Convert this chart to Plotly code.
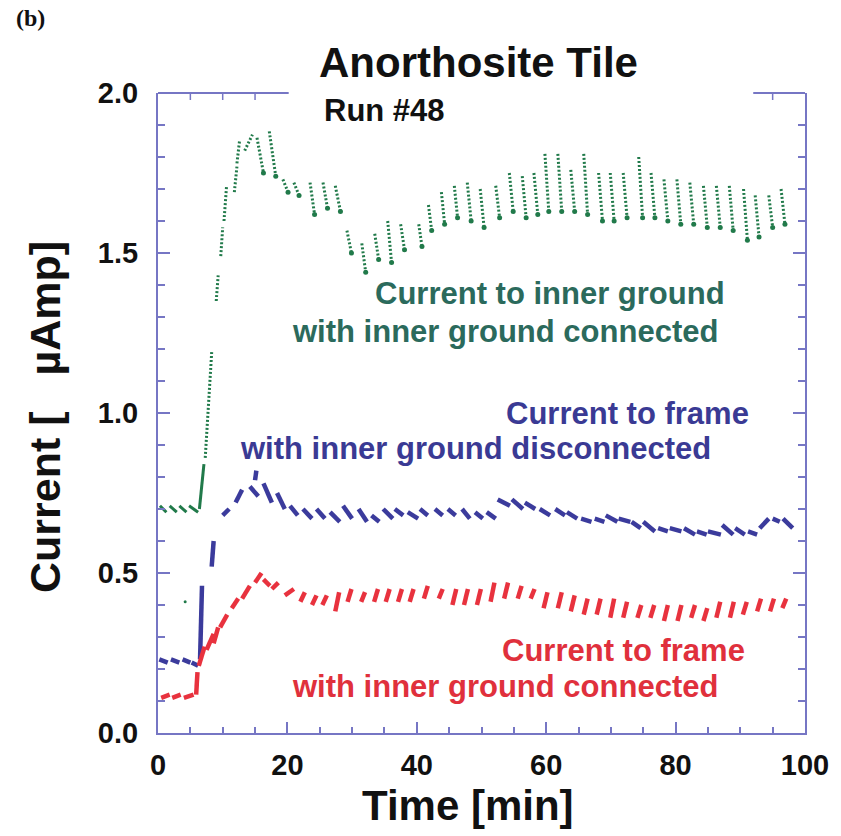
import plotly.graph_objects as go

# ---------------- data ----------------
# each streak: start time, end time, start current, end current
green_t0 = [0.3, 1.8, 3.3, 4.8, 6.4, 7.3, 9.0, 9.7, 10.2, 11.8, 12.2, 13.4, 15.3, 17.2, 19.3, 21.0, 23.5,
            25.5, 27.4, 29.2, 31.5, 33.5, 35.5, 37.5, 40.3, 41.8, 43.8, 45.8, 47.8, 49.8, 52.2, 54.3,
            56.3, 58.1, 59.8, 61.8, 63.8, 65.8, 68.1, 69.9, 71.9, 74.3, 76.2, 78.2, 80.2, 82.2, 84.3,
            86.3, 88.3, 90.5, 92.3, 94.4, 96.3]
green_t1 = [1.3, 2.9, 4.4, 6.2, 7.1, 8.3, 9.3, 10.0, 10.6, 12.2, 12.6, 14.6, 16.3, 18.2, 20.1, 21.8, 24.2,
            26.2, 28.2, 29.9, 32.1, 34.1, 36.1, 38.1, 40.8, 42.3, 44.3, 46.3, 48.4, 50.4, 52.8, 54.9,
            56.9, 58.7, 60.4, 62.4, 64.4, 66.4, 68.7, 70.5, 72.5, 74.9, 76.8, 78.8, 80.8, 82.8, 84.9,
            86.9, 88.9, 91.1, 92.9, 95.0, 96.9]
green_i0 = [0.71, 0.71, 0.71, 0.71, 0.70, 0.86, 1.35, 1.49, 1.60, 1.69, 1.78, 1.82, 1.86, 1.88, 1.73, 1.72, 1.72,
            1.72, 1.71, 1.57, 1.53, 1.56, 1.60, 1.59, 1.59, 1.65, 1.69, 1.71, 1.72, 1.70, 1.71, 1.75,
            1.74, 1.75, 1.81, 1.81, 1.76, 1.81, 1.75, 1.75, 1.75, 1.80, 1.75, 1.73, 1.73, 1.72, 1.71,
            1.71, 1.71, 1.70, 1.68, 1.68, 1.70]
green_i1 = [0.69, 0.69, 0.69, 0.69, 0.84, 1.19, 1.43, 1.58, 1.71, 1.77, 1.85, 1.87, 1.75, 1.74, 1.69, 1.68, 1.62,
            1.64, 1.63, 1.50, 1.44, 1.48, 1.47, 1.51, 1.52, 1.57, 1.59, 1.61, 1.60, 1.58, 1.61, 1.63,
            1.61, 1.62, 1.63, 1.63, 1.63, 1.62, 1.60, 1.60, 1.61, 1.61, 1.61, 1.60, 1.59, 1.59, 1.58,
            1.58, 1.57, 1.54, 1.55, 1.58, 1.59]
green_dot_t = [4.2]
green_dot_i = [0.41]

blue_t0 = [0.2, 2.0, 3.8, 5.2, 6.5, 8.3, 10.0, 12.0, 14.2, 15.0, 16.3, 18.4, 20.4, 22.4, 24.5, 26.6, 28.6,
           31.0, 33.0, 34.8, 36.6, 38.6, 40.5, 42.8, 44.8, 47.0, 49.0, 50.8, 52.5, 54.7, 56.7, 59.0,
           61.4, 63.2, 65.4, 67.5, 69.2, 71.2, 73.2, 75.0, 77.3, 79.1, 81.3, 83.3, 85.0, 87.2, 89.2,
           91.2, 93.0, 95.0, 96.6]
blue_t1 = [1.5, 3.3, 5.0, 6.2, 6.8, 8.6, 11.0, 13.0, 15.5, 15.2, 17.6, 19.6, 21.6, 23.8, 25.8, 28.1, 30.0,
           32.3, 34.2, 36.3, 37.9, 40.2, 41.7, 44.0, 46.0, 48.2, 50.2, 52.2, 54.4, 56.4, 58.3, 60.6,
           62.9, 64.8, 67.0, 69.0, 71.0, 73.0, 74.6, 76.8, 78.8, 80.9, 83.0, 84.8, 87.0, 88.9, 90.7,
           92.6, 94.4, 96.1, 98.1]
blue_i0 = [0.23, 0.23, 0.23, 0.22, 0.23, 0.52, 0.68, 0.72, 0.77, 0.79, 0.78, 0.75, 0.71, 0.70, 0.70, 0.69, 0.71,
           0.70, 0.68, 0.70, 0.70, 0.69, 0.70, 0.70, 0.70, 0.70, 0.69, 0.69, 0.73, 0.73, 0.72, 0.70,
           0.70, 0.69, 0.67, 0.67, 0.68, 0.67, 0.66, 0.66, 0.64, 0.64, 0.64, 0.63, 0.63, 0.65, 0.64,
           0.63, 0.64, 0.67, 0.67]
blue_i1 = [0.22, 0.22, 0.22, 0.21, 0.46, 0.60, 0.70, 0.76, 0.74, 0.82, 0.72, 0.70, 0.68, 0.67, 0.67, 0.66, 0.67,
           0.66, 0.66, 0.67, 0.68, 0.67, 0.68, 0.68, 0.68, 0.67, 0.67, 0.67, 0.71, 0.70, 0.70, 0.68,
           0.68, 0.67, 0.66, 0.66, 0.66, 0.66, 0.64, 0.63, 0.63, 0.63, 0.62, 0.62, 0.62, 0.62, 0.62,
           0.62, 0.67, 0.66, 0.64]

red_t0 = [0.5, 2.2, 4.0, 5.9, 6.3, 7.5, 8.6, 9.6, 11.4, 13.0, 15.0, 16.3, 17.6, 19.6, 22.0, 23.8, 25.4,
          27.4, 29.3, 31.4, 33.4, 35.2, 37.1, 38.9, 41.1, 43.4, 45.5, 47.3, 49.3, 51.4, 53.5, 55.6,
          57.6, 59.6, 61.8, 63.8, 65.8, 67.8, 69.9, 71.9, 74.1, 76.1, 78.2, 80.3, 82.4, 84.3, 86.3,
          88.4, 90.4, 92.6, 94.6, 96.5]
red_t1 = [1.8, 3.5, 5.5, 6.1, 7.2, 8.6, 9.3, 10.7, 12.4, 14.2, 16.0, 17.3, 18.6, 21.0, 22.7, 24.5, 26.1,
          28.0, 29.9, 32.0, 34.0, 35.8, 37.7, 39.5, 41.7, 44.0, 46.1, 47.9, 49.9, 52.0, 54.1, 56.2,
          58.2, 60.2, 62.4, 64.4, 66.4, 68.4, 70.5, 72.5, 74.7, 76.7, 78.8, 80.9, 83.0, 84.9, 86.9,
          89.0, 91.0, 93.2, 95.2, 97.1]
red_i0 = [0.11, 0.11, 0.11, 0.12, 0.21, 0.26, 0.28, 0.33, 0.39, 0.42, 0.47, 0.48, 0.45, 0.43, 0.41, 0.40, 0.40,
          0.38, 0.41, 0.41, 0.41, 0.41, 0.41, 0.41, 0.42, 0.42, 0.40, 0.40, 0.40, 0.41, 0.42, 0.42,
          0.42, 0.39, 0.39, 0.38, 0.37, 0.37, 0.36, 0.36, 0.36, 0.36, 0.35, 0.35, 0.36, 0.35, 0.36,
          0.36, 0.37, 0.38, 0.38, 0.39]
red_i1 = [0.12, 0.12, 0.12, 0.19, 0.27, 0.31, 0.33, 0.37, 0.42, 0.46, 0.50, 0.46, 0.47, 0.45, 0.44, 0.43, 0.43,
          0.44, 0.45, 0.44, 0.45, 0.45, 0.45, 0.45, 0.46, 0.45, 0.45, 0.45, 0.45, 0.47, 0.47, 0.46,
          0.45, 0.44, 0.44, 0.43, 0.42, 0.42, 0.42, 0.41, 0.40, 0.40, 0.40, 0.40, 0.40, 0.39, 0.41,
          0.41, 0.41, 0.42, 0.42, 0.42]

x_ticks = [0, 20, 40, 60, 80, 100]
y_ticks = [0.0, 0.5, 1.0, 1.5, 2.0]

GREEN = "#217a4a"
BLUE = "#3b3b9c"
RED = "#e8323e"
GREEN_TXT = "#2b6a5c"
BLUE_TXT = "#3a3a94"
RED_TXT = "#e0303c"
AXIS = "#7676c4"
FONT = "Liberation Sans"


def segs(t0, t1, i0, i1):
    xs, ys = [], []
    for a, b, c, d in zip(t0, t1, i0, i1):
        xs += [a, b, None]
        ys += [c, d, None]
    return xs, ys


fig = go.Figure()
# flat start of the green record (solid little dashes)
gx, gy = segs(green_t0[:5], green_t1[:5], green_i0[:5], green_i1[:5])
fig.add_trace(go.Scatter(x=gx, y=gy, mode="lines", line=dict(color=GREEN, width=3),
                         showlegend=False, hoverinfo="skip"))
# the rest: dotted streaks with a denser foot
gx, gy = segs(green_t0[5:], green_t1[5:], green_i0[5:], green_i1[5:])
fig.add_trace(go.Scatter(x=gx, y=gy, mode="lines", line=dict(color=GREEN, width=3, dash="2px,2px"),
                         showlegend=False, hoverinfo="skip"))
fig.add_trace(go.Scatter(x=green_t1[12:], y=green_i1[12:], mode="markers",
                         marker=dict(color=GREEN, size=5, symbol="circle"), showlegend=False, hoverinfo="skip"))
fig.add_trace(go.Scatter(x=green_dot_t, y=green_dot_i, mode="markers",
                         marker=dict(color=GREEN, size=3), showlegend=False))
bx, by = segs(blue_t0, blue_t1, blue_i0, blue_i1)
fig.add_trace(go.Scatter(x=bx, y=by, mode="lines", line=dict(color=BLUE, width=4.5),
                         showlegend=False, hoverinfo="skip"))
rx, ry = segs(red_t0, red_t1, red_i0, red_i1)
fig.add_trace(go.Scatter(x=rx, y=ry, mode="lines", line=dict(color=RED, width=4.5),
                         showlegend=False, hoverinfo="skip"))

tickfont = dict(family=FONT, size=29, color="#111111", weight="bold")
fig.update_xaxes(range=[0, 100], tickvals=x_ticks, ticktext=[str(v) for v in x_ticks],
                 ticks="inside", ticklen=11, tickwidth=1.5, tickcolor=AXIS,
                 showline=True, linecolor=AXIS, linewidth=2, mirror=False,
                 showgrid=False, zeroline=False, tickfont=tickfont, ticklabelstandoff=5,
                 minor=dict(ticks="inside", dtick=5, tick0=0, ticklen=6, tickwidth=1.5, tickcolor=AXIS))
fig.update_yaxes(range=[0, 2], tickvals=y_ticks, ticktext=[f"{v:.1f}" for v in y_ticks],
                 ticks="inside", ticklen=12, tickwidth=1.5, tickcolor=AXIS,
                 showline=True, linecolor=AXIS, linewidth=2, mirror="ticks",
                 showgrid=False, zeroline=False, tickfont=tickfont, ticklabelstandoff=12,
                 minor=dict(ticks="inside", dtick=0.1, tick0=0, ticklen=7, tickwidth=1.5, tickcolor=AXIS))

# broken top frame line with its ticks
shapes = [
    dict(type="line", xref="x", yref="paper", x0=0, x1=20.2, y0=1, y1=1, line=dict(color=AXIS, width=2)),
    dict(type="line", xref="x", yref="paper", x0=92, x1=100, y0=1, y1=1, line=dict(color=AXIS, width=2)),
]
for t in [5, 10, 15, 95]:
    shapes.append(dict(type="line", xref="x", yref="paper", x0=t, x1=t, y0=1, y1=1 - 7 / 640,
                       line=dict(color=AXIS, width=1.5)))

ann = [
    dict(text="Anorthosite Tile", x=478, y=62, size=42, color="#111111"),
    dict(text="Run #48", x=384, y=110, size=31, color="#111111"),
]
annotations = []
for a in ann:
    annotations.append(dict(text=a["text"], xref="paper", yref="paper",
                            x=(a["x"] - 158) / 647, y=(733 - a["y"]) / 640,
                            xanchor="center", yanchor="middle", showarrow=False,
                            font=dict(family=FONT, size=a["size"], color=a["color"], weight="bold")))

labels = [
    ("Current to inner ground", 60.6, 1.372, GREEN_TXT),
    ("with inner ground connected", 53.6, 1.256, GREEN_TXT),
    ("Current to frame", 72.5, 1.0, BLUE_TXT),
    ("with inner ground disconnected", 49.1, 0.888, BLUE_TXT),
    ("Current to frame", 72.0, 0.258, RED_TXT),
    ("with inner ground connected", 53.6, 0.146, RED_TXT),
]
for text, x, y, c in labels:
    annotations.append(dict(text=text, x=x, y=y, xref="x", yref="y", xanchor="center", yanchor="middle",
                            showarrow=False, font=dict(family=FONT, size=31, color=c, weight="bold")))

annotations.append(dict(text="Time [min]", xref="paper", yref="paper", x=(468 - 158) / 647,
                        y=(733 - 805) / 640, xanchor="center", yanchor="middle", showarrow=False,
                        font=dict(family=FONT, size=42, color="#111111", weight="bold")))
annotations.append(dict(text="Current [\u00a0\u00a0\u00a0\u00b5Amp]", xref="paper", yref="paper",
                        x=(45 - 158) / 647, y=(733 - 417) / 640, textangle=-90,
                        xanchor="center", yanchor="middle", showarrow=False,
                        font=dict(family=FONT, size=43, color="#111111", weight="bold")))
annotations.append(dict(text="(b)", xref="paper", yref="paper", x=(14 - 158) / 647, y=(733 - 18) / 640,
                        xanchor="left", yanchor="middle", showarrow=False,
                        font=dict(family="Liberation Serif", size=24, color="#111111", weight="bold")))

fig.update_layout(width=841, height=836, margin=dict(l=158, r=36, t=93, b=103),
                  paper_bgcolor="white", plot_bgcolor="white",
                  shapes=shapes, annotations=annotations)

fig.write_html("out.html")
